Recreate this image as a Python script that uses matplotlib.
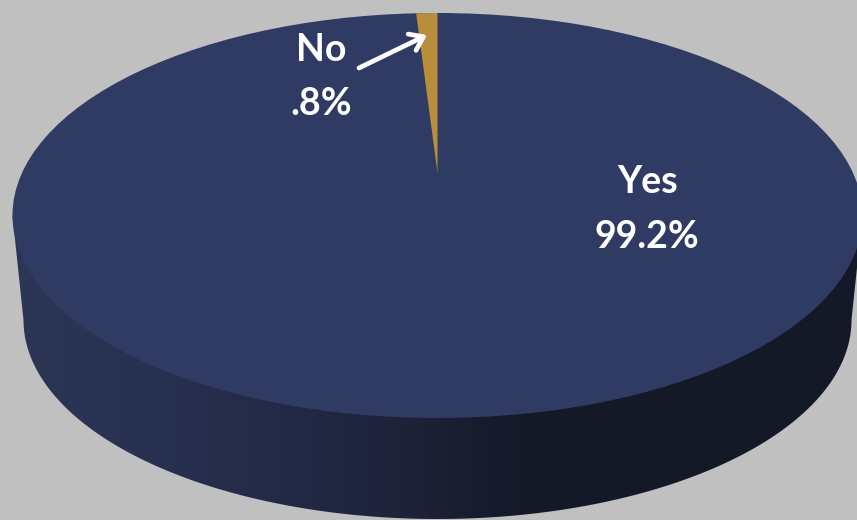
import numpy as np
import matplotlib
matplotlib.use('Agg')
import matplotlib.pyplot as plt
from matplotlib.colors import LinearSegmentedColormap
from matplotlib.patches import Ellipse, Polygon

categories = ['Yes', 'No']
shares = [99.2, 0.8]
share_labels = ['99.2%', '.8%']

bg = '#c0c0c0'
top_color = '#2f3b62'
no_color = '#b88d3c'

# top face and lower rim of the disc, in pixels
cx, cy, a, b = 437.5, 215.5, 425, 202.5
low_cy, low_a, low_b = 320, 414, 199
tip_y = 173

fig = plt.figure(figsize=(8.57, 5.2), dpi=100, facecolor=bg)
ax = fig.add_axes([0, 0, 1, 1])
ax.set_xlim(0, 857)
ax.set_ylim(520, 0)
ax.axis('off')

# side wall: outline of the lower half, filled with a left to right shade
t = np.linspace(0, np.pi, 200)
lower_x = cx - low_a * np.cos(t)
lower_y = low_cy + low_b * np.sin(t)
wall = np.vstack([[cx - a, cy], np.column_stack([lower_x, lower_y]), [cx + a, cy]])
wall_patch = Polygon(wall, closed=True, fc='none', ec='none')
ax.add_patch(wall_patch)

shade = LinearSegmentedColormap.from_list('wall', [
    (0.0, '#2c3655'), (0.2, '#283050'), (0.35, '#222945'),
    (0.48, '#1d2238'), (0.62, '#131926'), (1.0, '#131926')])
img = ax.imshow(np.linspace(0, 1, 857).reshape(1, -1), cmap=shade, vmin=0, vmax=1,
                extent=[0, 857, 520, 0], aspect='auto', zorder=1)
img.set_clip_path(wall_patch)

# top face
ax.add_patch(Ellipse((cx, cy), 2 * a, 2 * b, fc=top_color, ec='none', zorder=2))

# the small slice, swept to the left of twelve o'clock
sweep = np.radians(shares[1] / sum(shares) * 360)
rim_t = np.linspace(0, sweep, 10)
rim_x = cx - a * np.sin(rim_t)
rim_y = cy - b * np.cos(rim_t)
pts = np.vstack([[cx, tip_y], np.column_stack([rim_x, rim_y])])
ax.add_patch(Polygon(pts, closed=True, fc=no_color, ec='none', zorder=3))

font = dict(family='Lato', weight='bold', size=27, color='white',
            ha='center', va='center', zorder=5)
ax.text(321, 50, categories[1], **font)
ax.text(321, 104, share_labels[1], **font)
ax.text(648, 182, categories[0], **font)
ax.text(647, 237, share_labels[0], **font)

ax.annotate('', xy=(427, 35), xytext=(359, 68), zorder=5,
            arrowprops=dict(arrowstyle='->,head_length=0.9,head_width=0.65',
                            color='white', lw=3.4, shrinkA=0, shrinkB=0))

fig.savefig('out.png', dpi=100, facecolor=bg)
